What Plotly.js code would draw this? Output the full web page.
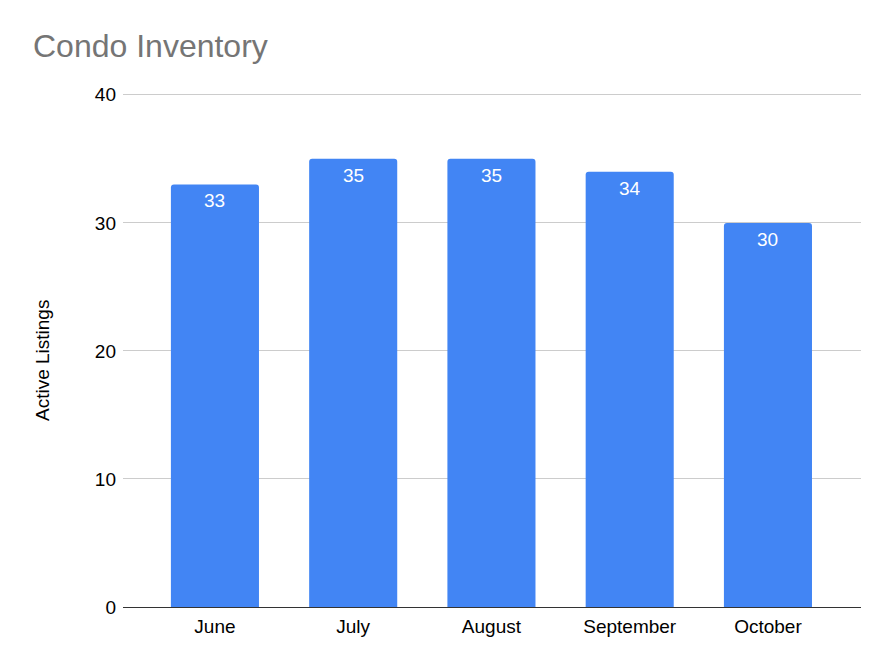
<!DOCTYPE html>
<html>
<head>
<meta charset="utf-8">
<script src="https://cdn.plot.ly/plotly-3.0.1.min.js"></script>
<style>html,body{margin:0;padding:0;background:#fff;}#chart{width:875px;height:666px;}</style>
</head>
<body>
<div id="chart"></div>
<script>
const months = ["June", "July", "August", "September", "October"];
const activeListings = [33, 35, 35, 34, 30];
const yTicks = [0, 10, 20, 30, 40];

const FONT = "Liberation Sans, Arial, sans-serif";

const trace = {
  type: "bar",
  x: months,
  y: activeListings,
  marker: {color: "#4285F4", cornerradius: 3},
  hoverinfo: "x+y"
};

const labels = months.map((m, i) => ({
  x: m, y: activeListings[i], xref: "x", yref: "y",
  text: String(activeListings[i]),
  showarrow: false, yanchor: "top", yshift: -4,
  font: {family: FONT, size: 19, color: "#ffffff"}
}));

labels.push({
  text: "Active Listings",
  xref: "paper", yref: "paper",
  x: (42 - 123) / 738, y: (607 - 361) / 516,
  xanchor: "center", yanchor: "middle",
  textangle: -90, showarrow: false,
  font: {family: FONT, size: 19, color: "#000000"}
});

const layout = {
  width: 875, height: 666,
  margin: {l: 123, r: 14, t: 91, b: 59},
  paper_bgcolor: "#ffffff", plot_bgcolor: "#ffffff",
  font: {family: FONT, size: 19, color: "#000000"},
  title: {
    text: "Condo Inventory",
    font: {family: FONT, size: 32, color: "#757575"},
    xref: "container", x: 33/875, xanchor: "left",
    yref: "container", y: 1 - 46/666, yanchor: "middle"
  },
  bargap: 0.363,
  xaxis: {
    type: "category",
    range: [-0.665, 4.673],
    showgrid: false,
    showline: false,
    zeroline: false,
    ticks: "",
    ticklabelstandoff: 6,
    tickfont: {size: 19, color: "#000000"}
  },
  yaxis: {
    range: [0, 40.3],
    tickvals: yTicks,
    ticktext: yTicks.map(String),
    showgrid: true,
    gridcolor: "#cccccc",
    gridwidth: 1,
    zeroline: true,
    zerolinecolor: "#333333",
    zerolinewidth: 1,
    ticks: "",
    ticklabelstandoff: 6,
    tickfont: {size: 19, color: "#000000"}
  },
  annotations: labels,
  showlegend: false
};

Plotly.newPlot("chart", [trace], layout, {displayModeBar: false, staticPlot: true});
</script>
</body>
</html>
